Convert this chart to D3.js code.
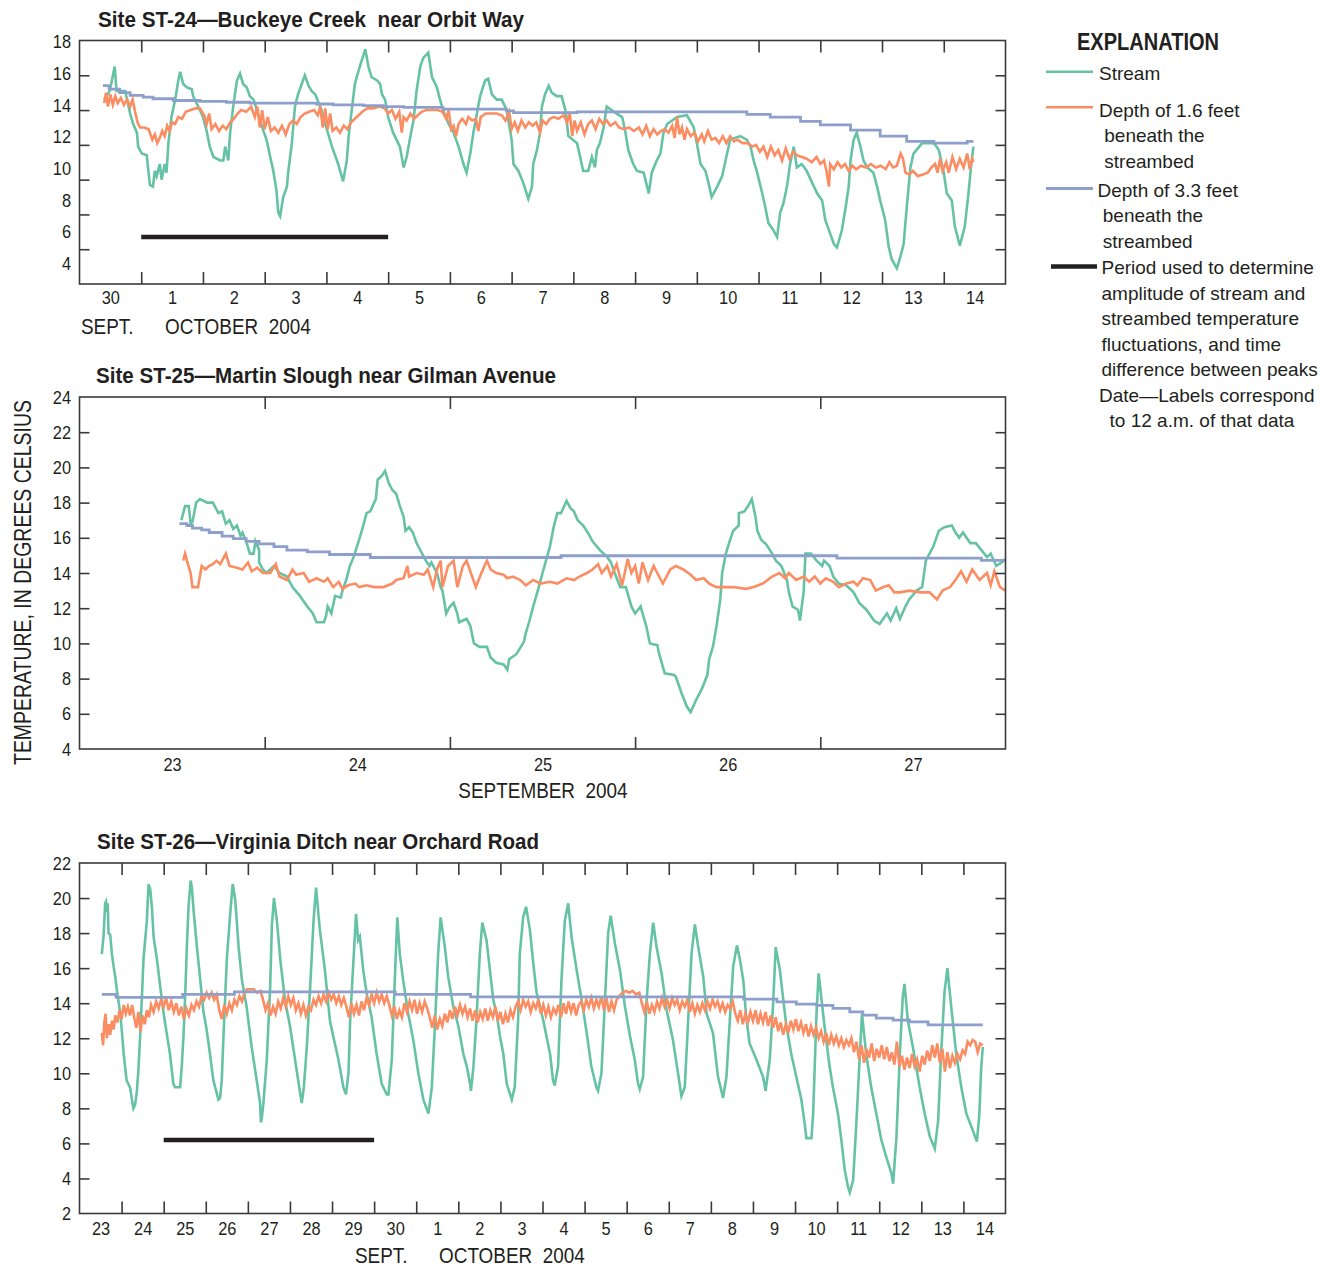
<!DOCTYPE html>
<html>
<head>
<meta charset="utf-8">
<script src="https://cdn.jsdelivr.net/npm/d3@7"></script>
<style>
  body { margin: 0; background: #fff; }
  svg text { font-family: "Liberation Sans", Arial, sans-serif; fill: #231f20; white-space: pre; }
</style>
</head>
<body>
<svg id="chart" width="1341" height="1268"></svg>
<script>
// ---------------------------------------------------------------------------
// Temperature records, as [days since the panel's start date, degrees Celsius]
// ---------------------------------------------------------------------------

// Site ST-24, Buckeye Creek near Orbit Way (starts 30 Sept. 2004)
const st24Stream = [[0.40,14.6],[0.49,15.1],[0.57,16.5],[0.60,15.1],[0.74,15.1],[0.82,13.8],[0.87,13.2],[0.93,12.7],[0.95,11.9],[1.01,11.5],[1.09,11.4],[1.11,10.7],[1.14,9.7],[1.19,9.6],[1.22,10.5],[1.25,10.2],[1.30,10.9],[1.33,10.0],[1.38,10.9],[1.41,10.4],[1.44,12.1],[1.49,13.6],[1.55,14.6],[1.60,15.7],[1.63,16.2],[1.68,15.5],[1.74,15.3],[1.82,15.2],[1.84,14.8],[1.95,14.0],[2.00,13.6],[2.06,12.8],[2.11,11.9],[2.17,11.3],[2.28,11.1],[2.33,11.1],[2.36,11.9],[2.41,11.1],[2.44,12.7],[2.49,14.2],[2.55,15.7],[2.60,16.1],[2.65,15.5],[2.71,15.3],[2.76,14.8],[2.82,14.6],[2.98,12.8],[3.03,12.3],[3.09,11.3],[3.14,10.5],[3.19,9.4],[3.22,8.1],[3.25,7.9],[3.30,9.0],[3.36,9.6],[3.38,10.4],[3.44,12.1],[3.49,14.2],[3.54,14.9],[3.60,15.5],[3.65,16.0],[3.71,15.4],[3.76,15.1],[3.82,14.9],[3.92,14.0],[3.98,13.2],[4.09,11.9],[4.19,10.9],[4.27,9.9],[4.33,11.1],[4.36,12.5],[4.41,14.0],[4.46,15.5],[4.54,16.5],[4.63,17.5],[4.68,16.5],[4.73,15.9],[4.82,15.7],[4.87,15.5],[4.90,14.9],[4.95,14.6],[5.00,13.6],[5.08,12.7],[5.19,11.9],[5.25,10.7],[5.30,11.3],[5.35,12.3],[5.41,13.4],[5.46,15.1],[5.52,16.5],[5.57,17.0],[5.65,17.3],[5.71,15.9],[5.79,15.3],[5.84,14.6],[5.89,14.0],[5.98,13.2],[6.06,12.7],[6.14,11.9],[6.22,10.9],[6.27,10.4],[6.33,11.5],[6.38,12.7],[6.49,14.8],[6.57,15.7],[6.62,15.8],[6.68,14.9],[6.76,14.6],[6.84,14.6],[6.92,14.0],[7.00,12.3],[7.03,10.9],[7.11,10.5],[7.19,9.8],[7.27,8.9],[7.33,9.6],[7.35,10.9],[7.41,11.7],[7.46,12.7],[7.49,14.2],[7.54,14.9],[7.60,15.4],[7.65,15.0],[7.73,14.8],[7.81,14.8],[7.87,14.0],[7.92,12.5],[8.06,12.1],[8.11,11.3],[8.16,10.5],[8.24,10.5],[8.30,11.3],[8.35,10.7],[8.38,11.7],[8.43,12.1],[8.49,13.0],[8.54,14.2],[8.62,14.0],[8.70,13.8],[8.79,13.6],[8.84,12.8],[8.89,11.7],[8.97,10.9],[9.03,10.5],[9.14,10.4],[9.22,9.2],[9.27,10.4],[9.35,11.1],[9.41,11.5],[9.46,12.7],[9.52,13.2],[9.68,13.6],[9.84,13.7],[9.95,13.0],[10.00,12.1],[10.06,10.9],[10.14,10.5],[10.19,9.8],[10.24,9.0],[10.33,9.6],[10.41,10.2],[10.49,11.5],[10.54,12.3],[10.70,12.5],[10.81,12.3],[10.87,11.9],[10.92,11.1],[10.97,10.5],[11.06,9.2],[11.11,8.4],[11.16,7.5],[11.24,7.1],[11.30,6.7],[11.35,8.1],[11.40,8.6],[11.46,9.6],[11.51,10.9],[11.57,11.9],[11.62,10.7],[11.70,10.9],[11.78,10.5],[11.87,9.8],[11.95,9.2],[12.03,8.8],[12.08,7.7],[12.16,6.9],[12.22,6.3],[12.27,6.1],[12.35,7.1],[12.41,8.4],[12.46,9.6],[12.49,11.1],[12.54,12.3],[12.59,12.7],[12.65,11.9],[12.70,11.1],[12.76,10.7],[12.86,10.4],[12.92,9.6],[12.97,8.8],[13.05,7.7],[13.11,6.1],[13.16,5.4],[13.24,4.9],[13.30,5.6],[13.35,6.3],[13.40,8.4],[13.46,10.7],[13.51,11.5],[13.65,12.1],[13.84,12.1],[13.92,11.7],[14.00,10.4],[14.05,9.2],[14.13,8.8],[14.18,7.3],[14.26,6.2],[14.34,7.3],[14.40,9.2],[14.44,10.7],[14.48,11.9]];
const st24Shallow = [[0.40,14.4],[0.43,15.0],[0.46,14.2],[0.50,14.9],[0.54,14.3],[0.58,14.8],[0.62,14.4],[0.67,14.7],[0.72,14.3],[0.77,14.6],[0.82,14.2],[0.86,14.6],[0.90,13.9],[0.94,13.3],[0.98,13.0],[1.05,13.0],[1.12,12.9],[1.18,12.3],[1.22,12.6],[1.26,12.1],[1.30,12.4],[1.34,12.8],[1.38,12.5],[1.42,13.1],[1.46,12.8],[1.50,13.3],[1.55,13.2],[1.60,13.6],[1.66,13.5],[1.72,13.9],[1.80,14.0],[1.88,14.1],[1.95,14.1],[2.02,13.7],[2.06,13.2],[2.10,13.8],[2.14,12.9],[2.20,13.2],[2.26,12.8],[2.32,13.1],[2.38,12.9],[2.44,13.3],[2.50,13.5],[2.56,13.8],[2.62,14.0],[2.70,13.9],[2.78,14.2],[2.84,13.6],[2.88,14.2],[2.92,13.0],[2.96,14.0],[3.00,12.9],[3.05,13.6],[3.10,12.8],[3.16,13.0],[3.22,12.7],[3.28,13.1],[3.34,12.6],[3.40,13.2],[3.46,13.4],[3.52,13.2],[3.58,13.6],[3.65,13.8],[3.72,13.9],[3.80,14.0],[3.86,13.7],[3.90,14.2],[3.94,13.0],[3.98,14.1],[4.02,12.9],[4.06,13.8],[4.10,12.8],[4.16,13.0],[4.22,12.7],[4.28,13.1],[4.34,12.9],[4.40,13.3],[4.46,13.5],[4.52,13.7],[4.58,13.9],[4.66,14.1],[4.76,14.1],[4.86,14.2],[4.94,14.1],[5.00,13.8],[5.06,14.0],[5.12,13.5],[5.18,13.9],[5.22,12.7],[5.25,13.6],[5.30,13.4],[5.36,13.8],[5.42,13.5],[5.48,13.7],[5.54,13.9],[5.62,14.0],[5.70,14.0],[5.80,14.0],[5.88,13.9],[5.94,13.5],[5.98,14.0],[6.02,12.9],[6.06,13.1],[6.10,12.5],[6.14,13.2],[6.20,13.5],[6.26,13.2],[6.30,13.6],[6.36,13.4],[6.42,13.5],[6.46,12.8],[6.50,13.6],[6.58,13.8],[6.66,13.8],[6.76,13.8],[6.84,13.7],[6.90,13.4],[6.96,13.9],[7.00,12.9],[7.05,13.3],[7.10,12.8],[7.16,13.4],[7.22,13.0],[7.28,13.3],[7.34,13.1],[7.40,13.3],[7.46,12.7],[7.50,13.4],[7.56,13.2],[7.62,13.5],[7.68,13.6],[7.76,13.5],[7.84,13.7],[7.90,13.3],[7.94,13.9],[7.98,12.5],[8.02,13.4],[8.06,12.8],[8.12,13.3],[8.18,12.6],[8.24,13.2],[8.30,13.4],[8.36,12.9],[8.42,13.5],[8.48,13.2],[8.54,13.4],[8.60,13.1],[8.68,13.3],[8.74,13.0],[8.82,12.9],[8.90,13.0],[8.98,12.8],[9.06,13.0],[9.12,12.6],[9.18,13.1],[9.24,12.5],[9.30,12.9],[9.36,12.6],[9.42,12.8],[9.48,12.9],[9.54,12.7],[9.60,13.1],[9.64,12.4],[9.68,13.6],[9.72,12.6],[9.76,13.0],[9.80,12.3],[9.84,12.9],[9.90,12.5],[9.96,12.7],[10.02,12.2],[10.08,12.6],[10.12,12.2],[10.18,12.8],[10.24,12.3],[10.30,12.4],[10.36,12.1],[10.42,12.5],[10.48,12.1],[10.54,12.5],[10.60,12.2],[10.66,12.3],[10.74,12.1],[10.82,12.1],[10.90,11.9],[10.96,12.0],[11.02,11.6],[11.08,11.9],[11.14,11.3],[11.20,11.9],[11.26,11.4],[11.32,11.7],[11.38,11.1],[11.44,11.8],[11.50,11.2],[11.56,11.6],[11.62,11.4],[11.70,11.3],[11.78,11.2],[11.86,11.0],[11.94,11.3],[12.00,10.9],[12.06,11.1],[12.10,10.5],[12.14,9.6],[12.16,10.9],[12.22,10.6],[12.28,11.0],[12.34,10.7],[12.40,10.9],[12.46,10.5],[12.52,10.8],[12.58,10.6],[12.66,10.8],[12.74,10.7],[12.82,10.9],[12.90,10.7],[12.98,10.8],[13.06,10.6],[13.12,11.0],[13.18,10.7],[13.24,10.8],[13.30,11.5],[13.34,11.2],[13.38,10.4],[13.44,10.3],[13.50,10.5],[13.58,10.2],[13.66,10.3],[13.74,10.4],[13.80,10.7],[13.86,10.9],[13.90,10.4],[13.94,11.2],[13.98,10.5],[14.04,11.0],[14.08,10.4],[14.14,11.3],[14.20,10.6],[14.26,11.2],[14.32,10.7],[14.38,11.5],[14.42,10.6],[14.46,11.2],[14.48,11.0]];
const st24Deep = [[0.38,15.4],[0.48,15.2],[0.65,15.0],[0.82,14.85],[1.03,14.75],[1.19,14.65],[1.52,14.55],[1.95,14.5],[2.38,14.45],[2.76,14.4],[3.84,14.35],[4.11,14.3],[4.60,14.25],[4.92,14.2],[5.25,14.15],[5.89,14.05],[6.92,13.95],[7.03,13.85],[8.06,13.9],[10.27,13.9],[10.81,13.75],[11.19,13.6],[11.68,13.35],[12.00,13.15],[12.49,12.85],[12.97,12.5],[13.40,12.2],[13.84,12.1],[14.38,12.2],[14.48,12.2]];
const st24Period = [[1, 6.7], [5, 6.7]];

// Site ST-25, Martin Slough near Gilman Avenue (starts 23 Sept. 2004)
const st25Stream = [[0.55,17.0],[0.57,17.8],[0.59,17.8],[0.60,16.8],[0.61,16.9],[0.63,18.0],[0.65,18.2],[0.69,18.0],[0.72,18.0],[0.75,17.4],[0.77,17.5],[0.79,16.8],[0.81,17.0],[0.83,16.5],[0.85,16.7],[0.87,16.1],[0.88,16.3],[0.90,15.8],[0.92,15.1],[0.94,15.1],[0.95,15.8],[0.97,15.3],[0.97,14.6],[0.99,14.2],[1.01,14.0],[1.05,14.4],[1.08,14.0],[1.12,13.8],[1.15,13.2],[1.19,12.7],[1.23,12.1],[1.26,11.7],[1.28,11.2],[1.32,11.2],[1.33,11.5],[1.34,12.1],[1.36,11.7],[1.38,12.7],[1.41,12.6],[1.42,13.0],[1.44,13.6],[1.46,14.4],[1.48,14.9],[1.51,15.9],[1.53,16.6],[1.55,17.4],[1.57,17.5],[1.60,18.2],[1.61,19.3],[1.63,19.5],[1.65,19.8],[1.67,19.1],[1.69,18.7],[1.71,18.5],[1.73,17.8],[1.75,17.2],[1.76,16.4],[1.78,16.6],[1.80,16.3],[1.82,15.7],[1.85,15.1],[1.87,14.7],[1.89,14.4],[1.90,14.6],[1.93,14.0],[1.95,13.2],[1.96,13.0],[1.98,11.7],[2.00,12.1],[2.02,12.3],[2.04,11.7],[2.05,11.2],[2.09,11.4],[2.11,11.0],[2.13,10.0],[2.16,9.8],[2.20,9.8],[2.22,9.2],[2.25,8.9],[2.29,8.8],[2.31,8.5],[2.32,9.1],[2.36,9.4],[2.40,10.1],[2.41,10.6],[2.43,11.3],[2.45,12.1],[2.48,13.2],[2.50,14.0],[2.54,15.5],[2.56,16.6],[2.58,17.4],[2.60,17.4],[2.63,18.1],[2.65,17.7],[2.67,17.5],[2.69,17.0],[2.72,16.7],[2.75,16.2],[2.77,15.8],[2.81,15.3],[2.85,14.9],[2.87,14.6],[2.89,14.0],[2.92,13.2],[2.95,13.2],[2.98,12.1],[3.00,11.7],[3.03,12.1],[3.04,11.7],[3.06,11.0],[3.08,10.0],[3.12,9.9],[3.13,9.4],[3.16,8.3],[3.21,8.2],[3.22,8.1],[3.25,7.2],[3.28,6.4],[3.30,6.1],[3.33,6.8],[3.36,7.4],[3.39,8.2],[3.40,9.1],[3.42,9.8],[3.44,11.0],[3.46,12.5],[3.47,14.0],[3.49,15.1],[3.51,15.8],[3.53,16.4],[3.56,16.7],[3.56,17.4],[3.59,17.5],[3.61,17.8],[3.63,18.2],[3.65,17.2],[3.66,16.4],[3.68,15.9],[3.71,15.6],[3.74,15.1],[3.76,14.7],[3.79,14.4],[3.82,13.6],[3.83,12.9],[3.85,12.1],[3.88,11.9],[3.89,11.3],[3.91,12.9],[3.92,15.1],[3.95,15.1],[3.98,14.7],[4.01,14.4],[4.02,14.7],[4.05,14.4],[4.07,13.8],[4.10,13.4],[4.14,13.3],[4.18,12.9],[4.21,12.3],[4.25,11.9],[4.29,11.3],[4.32,11.1],[4.36,11.7],[4.38,11.3],[4.41,12.0],[4.43,11.4],[4.46,12.1],[4.48,12.5],[4.52,13.0],[4.55,13.2],[4.57,14.7],[4.61,15.5],[4.64,16.4],[4.67,16.6],[4.71,16.7],[4.73,16.3],[4.75,16.0],[4.77,16.3],[4.81,15.7],[4.84,15.7],[4.87,15.3],[4.90,14.9],[4.92,15.1],[4.95,14.4],[4.98,14.6],[5.00,14.8]];
const st25Shallow = [[0.56,14.7],[0.57,15.1],[0.58,14.7],[0.60,14.0],[0.61,13.2],[0.64,13.2],[0.66,14.4],[0.68,14.2],[0.70,14.4],[0.72,14.5],[0.74,14.7],[0.76,14.5],[0.79,15.1],[0.81,14.4],[0.85,14.3],[0.88,14.2],[0.91,14.6],[0.93,14.1],[0.96,14.3],[0.99,14.0],[1.03,14.0],[1.06,14.5],[1.08,13.8],[1.12,13.6],[1.15,14.2],[1.17,13.9],[1.21,14.0],[1.24,13.5],[1.28,13.7],[1.32,13.5],[1.34,13.7],[1.37,13.2],[1.40,13.5],[1.42,13.1],[1.45,13.3],[1.49,13.4],[1.51,13.2],[1.55,13.3],[1.59,13.2],[1.64,13.2],[1.69,13.4],[1.71,13.6],[1.75,13.7],[1.77,14.4],[1.78,13.8],[1.82,14.0],[1.86,13.9],[1.88,14.2],[1.91,13.2],[1.93,14.2],[1.95,14.7],[1.96,13.2],[1.99,14.4],[2.02,14.7],[2.04,13.2],[2.07,14.4],[2.09,14.7],[2.12,13.8],[2.14,13.2],[2.17,14.0],[2.20,14.7],[2.22,14.2],[2.25,14.0],[2.29,13.9],[2.31,13.7],[2.34,13.8],[2.38,13.6],[2.41,13.3],[2.45,13.6],[2.49,13.4],[2.54,13.5],[2.58,13.4],[2.63,13.7],[2.67,13.6],[2.70,13.8],[2.74,14.0],[2.77,14.2],[2.80,14.5],[2.82,14.0],[2.85,14.4],[2.87,13.8],[2.90,14.5],[2.93,13.3],[2.96,14.8],[2.98,14.0],[3.00,14.4],[3.02,13.4],[3.04,14.6],[3.07,13.6],[3.10,14.4],[3.12,14.0],[3.15,13.4],[3.19,14.2],[3.22,14.4],[3.26,14.2],[3.30,13.9],[3.33,13.6],[3.37,13.7],[3.40,13.4],[3.44,13.2],[3.53,13.2],[3.60,13.1],[3.64,13.2],[3.69,13.4],[3.74,13.8],[3.78,14.0],[3.81,13.7],[3.83,14.0],[3.87,13.6],[3.91,13.8],[3.94,13.5],[3.97,13.8],[4.00,13.4],[4.03,13.7],[4.07,13.5],[4.10,13.2],[4.14,13.4],[4.18,13.5],[4.20,13.3],[4.23,13.7],[4.27,13.6],[4.30,13.0],[4.34,13.2],[4.37,13.3],[4.40,12.9],[4.43,12.9],[4.48,13.0],[4.54,12.9],[4.59,12.9],[4.63,12.5],[4.66,13.0],[4.70,13.2],[4.73,13.6],[4.76,14.1],[4.79,13.5],[4.82,14.2],[4.86,13.6],[4.90,14.0],[4.92,13.3],[4.94,14.1],[4.97,13.2],[5.00,13.0]];
const st25Deep = [[0.54,16.8],[0.58,16.7],[0.61,16.55],[0.66,16.45],[0.70,16.3],[0.77,16.1],[0.83,15.95],[0.90,15.8],[0.97,15.65],[1.05,15.5],[1.12,15.3],[1.23,15.2],[1.35,15.05],[1.57,14.88],[2.60,14.98],[4.09,14.85],[4.87,14.72],[5.00,14.72]];

// Site ST-26, Virginia Ditch near Orchard Road (starts 23 Sept. 2004)
const st26Stream = [[0.53,16.8],[0.57,17.8],[0.61,19.7],[0.63,19.8],[0.65,19.2],[0.67,19.7],[0.69,18.0],[0.73,17.9],[0.77,16.8],[0.81,16.1],[0.85,15.5],[0.89,14.7],[0.97,13.4],[1.01,12.3],[1.05,11.1],[1.12,9.6],[1.20,9.2],[1.28,8.0],[1.32,8.2],[1.36,8.9],[1.40,10.2],[1.44,12.1],[1.48,14.2],[1.52,16.5],[1.60,18.7],[1.64,20.8],[1.68,20.5],[1.72,19.5],[1.76,17.8],[1.84,16.5],[1.92,14.9],[2.00,13.4],[2.07,12.3],[2.15,11.1],[2.23,9.4],[2.27,9.2],[2.39,9.2],[2.43,10.4],[2.47,12.1],[2.51,14.4],[2.55,17.2],[2.59,19.5],[2.64,21.0],[2.67,20.6],[2.71,19.3],[2.79,17.2],[2.87,15.3],[2.94,13.6],[3.02,12.5],[3.10,11.1],[3.18,9.6],[3.30,8.5],[3.34,8.6],[3.38,9.6],[3.42,12.1],[3.50,16.5],[3.58,19.1],[3.64,20.8],[3.70,19.9],[3.78,17.2],[3.86,15.3],[3.97,13.8],[4.09,11.5],[4.21,9.6],[4.29,8.3],[4.31,7.2],[4.33,7.4],[4.37,8.3],[4.45,10.8],[4.53,14.9],[4.57,18.4],[4.62,20.0],[4.69,18.7],[4.77,16.5],[4.88,14.2],[5.00,12.7],[5.12,10.8],[5.24,8.9],[5.28,8.3],[5.33,9.2],[5.40,11.5],[5.48,14.9],[5.56,18.7],[5.62,20.6],[5.71,18.2],[5.83,15.9],[5.95,13.0],[6.03,12.1],[6.15,10.8],[6.27,9.2],[6.33,8.8],[6.39,10.0],[6.43,13.0],[6.51,16.5],[6.57,19.1],[6.62,17.6],[6.66,17.8],[6.74,15.9],[6.82,14.6],[6.94,13.2],[7.06,11.1],[7.18,9.4],[7.30,8.8],[7.34,8.8],[7.42,10.8],[7.50,15.9],[7.55,18.9],[7.61,16.8],[7.69,15.3],[7.81,13.4],[7.93,11.9],[8.05,10.0],[8.17,8.5],[8.29,7.7],[8.37,9.2],[8.45,13.0],[8.52,16.8],[8.58,18.9],[8.68,17.2],[8.76,15.5],[8.88,13.8],[9.00,12.7],[9.12,11.1],[9.20,10.4],[9.28,9.4],[9.30,9.0],[9.36,10.4],[9.43,13.0],[9.51,16.8],[9.57,18.6],[9.67,17.6],[9.75,15.9],[9.83,14.2],[9.91,13.4],[9.99,12.1],[10.07,11.1],[10.15,9.4],[10.27,8.5],[10.34,9.2],[10.42,13.0],[10.46,16.8],[10.54,18.9],[10.61,19.5],[10.70,18.2],[10.78,16.3],[10.86,14.6],[11.02,13.0],[11.18,11.1],[11.25,9.6],[11.29,9.3],[11.37,10.4],[11.45,15.3],[11.53,18.7],[11.61,19.7],[11.69,17.8],[11.81,15.9],[11.93,14.2],[12.05,12.3],[12.16,10.4],[12.28,9.2],[12.32,9.0],[12.40,10.0],[12.48,14.0],[12.56,18.0],[12.62,19.0],[12.72,17.4],[12.84,15.9],[12.96,13.8],[13.08,12.1],[13.19,10.8],[13.27,9.4],[13.31,9.1],[13.39,9.8],[13.47,14.0],[13.55,16.8],[13.63,18.6],[13.71,17.2],[13.83,15.7],[13.95,13.6],[14.10,11.9],[14.22,10.0],[14.30,8.7],[14.38,9.2],[14.46,13.0],[14.54,16.8],[14.62,18.5],[14.70,17.2],[14.82,15.5],[14.90,13.4],[15.05,12.3],[15.17,9.8],[15.29,8.6],[15.37,9.8],[15.45,13.0],[15.53,16.1],[15.62,17.3],[15.69,16.5],[15.77,15.3],[15.84,13.2],[15.92,11.7],[16.08,10.8],[16.24,9.8],[16.30,9.0],[16.40,10.8],[16.48,14.0],[16.54,17.2],[16.64,15.9],[16.72,14.2],[16.79,12.8],[16.91,11.1],[17.03,9.8],[17.15,8.5],[17.23,7.1],[17.27,6.3],[17.39,6.3],[17.43,7.7],[17.51,13.4],[17.56,15.7],[17.63,14.2],[17.70,12.7],[17.82,10.4],[17.90,9.2],[18.02,7.7],[18.10,6.2],[18.18,4.5],[18.26,3.5],[18.30,3.2],[18.38,3.9],[18.46,7.3],[18.54,11.1],[18.59,13.4],[18.69,11.1],[18.81,9.2],[18.93,7.7],[19.05,6.2],[19.17,5.2],[19.29,4.3],[19.33,3.7],[19.41,6.4],[19.49,11.1],[19.56,14.4],[19.60,15.1],[19.68,13.0],[19.80,11.5],[19.96,9.2],[20.08,7.7],[20.20,6.4],[20.32,5.7],[20.40,7.3],[20.47,11.1],[20.55,14.6],[20.62,16.0],[20.71,13.8],[20.83,11.1],[20.95,9.2],[21.07,7.7],[21.23,6.7],[21.32,6.1],[21.38,7.7],[21.42,10.2],[21.46,11.5]];
const st26Shallow = [[0.53,12.3],[0.56,11.6],[0.59,12.9],[0.62,13.4],[0.65,12.0],[0.69,12.8],[0.73,12.2],[0.77,13.0],[0.81,12.5],[0.85,13.3],[0.90,12.9],[0.95,13.6],[1.00,13.1],[1.05,13.9],[1.10,13.4],[1.15,13.8],[1.20,13.3],[1.25,13.9],[1.30,13.2],[1.35,12.6],[1.40,13.5],[1.45,12.4],[1.50,13.3],[1.55,12.8],[1.60,13.6],[1.65,13.2],[1.70,13.9],[1.76,13.5],[1.82,14.1],[1.88,13.7],[1.94,14.2],[2.00,13.8],[2.06,14.3],[2.12,13.6],[2.18,14.1],[2.24,13.5],[2.30,14.0],[2.36,13.3],[2.42,13.8],[2.48,13.1],[2.54,13.7],[2.60,13.3],[2.66,13.9],[2.72,13.6],[2.78,14.1],[2.84,13.8],[2.90,14.4],[2.96,14.2],[3.02,14.6],[3.08,14.3],[3.14,14.6],[3.20,14.2],[3.26,14.5],[3.32,13.6],[3.38,13.1],[3.44,13.9],[3.50,13.4],[3.56,14.0],[3.62,13.6],[3.68,14.2],[3.74,13.9],[3.80,14.4],[3.86,14.1],[3.92,14.6],[3.98,14.8],[4.06,14.8],[4.14,14.8],[4.22,14.6],[4.30,14.7],[4.36,14.2],[4.42,13.6],[4.48,14.0],[4.54,13.3],[4.60,13.8],[4.66,13.4],[4.72,14.1],[4.78,13.7],[4.84,14.3],[4.90,13.8],[4.96,14.4],[5.02,13.9],[5.08,14.3],[5.14,13.6],[5.20,14.0],[5.26,13.4],[5.32,13.9],[5.38,13.3],[5.44,13.8],[5.50,13.6],[5.56,14.2],[5.62,13.9],[5.68,14.4],[5.74,14.0],[5.80,14.5],[5.86,14.1],[5.92,14.6],[5.98,14.2],[6.04,14.5],[6.10,14.0],[6.16,14.4],[6.22,13.9],[6.28,14.3],[6.34,13.8],[6.40,13.2],[6.46,14.0],[6.52,13.4],[6.58,13.9],[6.64,13.3],[6.70,14.1],[6.76,13.6],[6.82,14.3],[6.88,13.9],[6.94,14.5],[7.00,14.0],[7.06,14.6],[7.12,14.1],[7.18,14.5],[7.24,14.0],[7.30,14.4],[7.36,13.9],[7.42,13.3],[7.48,13.8],[7.54,13.1],[7.60,13.6],[7.66,13.2],[7.72,14.0],[7.78,13.5],[7.84,14.1],[7.90,13.6],[7.96,14.2],[8.02,13.4],[8.08,14.0],[8.14,13.5],[8.20,14.1],[8.26,13.7],[8.32,13.2],[8.38,12.6],[8.44,13.3],[8.50,12.5],[8.56,13.1],[8.62,12.7],[8.68,13.4],[8.74,12.9],[8.80,13.6],[8.86,13.1],[8.92,13.8],[8.98,13.3],[9.04,13.9],[9.10,13.4],[9.16,13.8],[9.22,13.2],[9.28,13.7],[9.34,13.0],[9.40,13.6],[9.46,12.9],[9.52,13.5],[9.58,13.1],[9.64,13.7],[9.70,13.0],[9.76,13.6],[9.82,13.2],[9.88,13.8],[9.94,13.0],[10.00,13.5],[10.06,12.8],[10.12,13.4],[10.18,12.9],[10.24,13.6],[10.30,13.2],[10.36,13.8],[10.42,14.1],[10.48,13.6],[10.54,14.2],[10.60,13.8],[10.66,14.1],[10.72,13.5],[10.78,14.0],[10.84,13.7],[10.90,14.2],[10.96,13.4],[11.02,13.9],[11.08,13.3],[11.14,13.8],[11.20,13.2],[11.26,13.7],[11.32,13.4],[11.38,13.9],[11.44,13.2],[11.50,14.0],[11.56,13.4],[11.62,14.1],[11.68,13.5],[11.74,14.0],[11.80,13.3],[11.86,13.9],[11.92,14.1],[11.98,13.6],[12.04,14.2],[12.10,13.8],[12.16,14.3],[12.22,13.7],[12.28,14.2],[12.34,13.8],[12.40,14.4],[12.46,13.6],[12.52,14.3],[12.58,13.5],[12.64,14.1],[12.70,13.6],[12.76,14.2],[12.82,14.4],[12.90,14.6],[12.98,14.7],[13.06,14.6],[13.14,14.7],[13.22,14.5],[13.30,14.6],[13.36,14.0],[13.42,13.5],[13.48,14.1],[13.54,13.4],[13.60,13.9],[13.66,13.5],[13.72,14.1],[13.78,13.7],[13.84,14.3],[13.90,13.8],[13.96,14.2],[14.02,13.7],[14.08,14.3],[14.14,13.9],[14.20,14.2],[14.26,13.6],[14.32,14.1],[14.38,13.8],[14.44,14.2],[14.50,13.5],[14.56,14.0],[14.62,13.4],[14.68,13.9],[14.74,13.5],[14.80,14.0],[14.86,13.6],[14.92,14.1],[14.98,13.7],[15.04,14.2],[15.10,13.8],[15.16,14.1],[15.22,13.6],[15.28,14.0],[15.34,13.5],[15.40,13.9],[15.46,13.7],[15.52,14.1],[15.58,13.4],[15.64,13.0],[15.70,13.6],[15.76,12.8],[15.82,13.4],[15.88,12.9],[15.94,13.5],[16.00,13.0],[16.06,13.6],[16.12,12.8],[16.18,13.4],[16.24,12.9],[16.30,13.5],[16.36,12.7],[16.42,13.3],[16.48,12.6],[16.54,13.2],[16.60,12.4],[16.66,12.9],[16.72,12.2],[16.78,12.8],[16.84,12.3],[16.90,13.0],[16.96,12.5],[17.02,13.1],[17.08,12.4],[17.14,12.9],[17.20,12.3],[17.26,12.8],[17.32,12.1],[17.38,12.7],[17.44,12.2],[17.50,12.6],[17.56,12.0],[17.62,12.4],[17.68,11.8],[17.74,12.3],[17.80,11.6],[17.86,12.2],[17.92,11.7],[17.98,12.1],[18.04,11.6],[18.10,12.0],[18.16,11.5],[18.22,11.9],[18.28,11.6],[18.34,12.0],[18.40,11.2],[18.46,11.8],[18.52,10.8],[18.58,11.6],[18.64,10.6],[18.70,11.4],[18.76,10.9],[18.82,11.7],[18.88,10.7],[18.94,11.4],[19.00,10.9],[19.06,11.6],[19.12,10.8],[19.18,11.5],[19.24,10.7],[19.30,11.2],[19.36,10.5],[19.42,11.8],[19.48,10.4],[19.54,11.0],[19.60,10.2],[19.66,10.9],[19.72,10.3],[19.78,11.1],[19.84,10.4],[19.90,10.8],[19.96,10.1],[20.02,11.0],[20.08,10.5],[20.14,11.3],[20.20,10.7],[20.26,11.6],[20.32,10.9],[20.38,11.7],[20.44,10.6],[20.50,11.4],[20.56,10.1],[20.62,11.2],[20.68,10.3],[20.74,11.0],[20.80,10.6],[20.86,11.1],[20.92,10.8],[20.98,11.3],[21.04,11.1],[21.10,11.8],[21.16,11.6],[21.22,11.9],[21.28,11.8],[21.34,11.2],[21.40,11.7],[21.46,11.6]];
const st26Deep = [[0.53,14.5],[0.87,14.33],[2.45,14.5],[3.68,14.65],[7.50,14.5],[9.29,14.36],[15.78,14.23],[16.57,14.08],[17.03,13.95],[17.51,13.88],[17.90,13.7],[18.30,13.5],[18.61,13.32],[18.93,13.15],[19.33,13.03],[19.72,12.94],[20.16,12.76],[21.46,12.76]];
const st26Period = [[2, 6.2], [7, 6.2]];

// Axis tick values (degrees Celsius)
const st24YLabels = [4, 6, 8, 10, 12, 14, 16, 18];
const st24YTicks  = [6, 8, 10, 12, 14, 16];
const st25YLabels = [4, 6, 8, 10, 12, 14, 16, 18, 20, 22, 24];
const st25YTicks  = [6, 8, 10, 12, 14, 16, 18, 20, 22];
const st26YLabels = [2, 4, 6, 8, 10, 12, 14, 16, 18, 20, 22];
const st26YTicks  = [4, 6, 8, 10, 12, 14, 16, 18, 20];

// Legend entries
const legendItems = [
  { key: "stream",  lines: ["Stream"] },
  { key: "shallow", lines: ["Depth of 1.6 feet", " beneath the", " streambed"] },
  { key: "deep",    lines: ["Depth of 3.3 feet", " beneath the", " streambed"] },
  { key: "period",  lines: ["Period used to determine", "amplitude of stream and", "streambed temperature", "fluctuations, and time", "difference between peaks"] }
];
const dateNote = ["Date\u2014Labels correspond", "  to 12 a.m. of that data"];

// ---------------------------------------------------------------------------
// Styling and layout
// ---------------------------------------------------------------------------
const COLOR = { stream: "#66c2a5", shallow: "#fc8d62", deep: "#8da0cb", period: "#231f20", frame: "#3a3a3a" };
const LEFT = 79.5, RIGHT = 1005.5;
const NUM_FONT = 19, NUM_SQUEEZE = 0.86;   // condensed figures for tick labels

// Horizontally condense text to a fraction of its natural width
function condense(sel, factor) {
  sel.each(function () {
    const w = this.getComputedTextLength();
    d3.select(this).attr("textLength", (w * factor).toFixed(1)).attr("lengthAdjust", "spacingAndGlyphs");
  });
}
// Fit text to an exact width
function fitWidth(sel, width) {
  sel.attr("textLength", width).attr("lengthAdjust", "spacingAndGlyphs");
}

const panels = [
  { id: "st24", title: "Site ST-24\u2014Buckeye Creek  near Orbit Way", titleX: 98, titleY: 27, titleW: 426,
    top: 40.5, bottom: 284, start: "2004-09-30", days: 15, yDomain: [4, 18],
    yTicks: st24YTicks, yLabels: st24YLabels, labelRange: [263.5, 41.5],
    stream: st24Stream, shallow: st24Shallow, deep: st24Deep, period: st24Period,
    dayLabelY: 304, monthY: 334, months: [{ text: "SEPT.", x: 81 }, { text: "OCTOBER  2004", x: 165 }] },
  { id: "st25", title: "Site ST-25\u2014Martin Slough near Gilman Avenue", titleX: 96, titleY: 383, titleW: 460,
    top: 397, bottom: 749, start: "2004-09-23", days: 5, yDomain: [4, 24],
    yTicks: st25YTicks, yLabels: st25YLabels, labelRange: null,
    stream: st25Stream, shallow: st25Shallow, deep: st25Deep, period: null,
    dayLabelY: 771, monthY: 798, months: [{ text: "SEPTEMBER  2004", x: 543, anchor: "middle" }] },
  { id: "st26", title: "Site ST-26\u2014Virginia Ditch near Orchard Road", titleX: 97, titleY: 849, titleW: 442,
    top: 863, bottom: 1213.5, start: "2004-09-23", days: 22, yDomain: [2, 22],
    yTicks: st26YTicks, yLabels: st26YLabels, labelRange: null,
    stream: st26Stream, shallow: st26Shallow, deep: st26Deep, period: st26Period,
    dayLabelY: 1235, monthY: 1263, months: [{ text: "SEPT.", x: 355 }, { text: "OCTOBER  2004", x: 439 }] }
];

const svg = d3.select("#chart");
const DAY = 864e5;
const parse = d3.utcParse("%Y-%m-%d");
const fmtDay = d3.utcFormat("%-d");

panels.forEach(p => {
  const t0 = parse(p.start);
  const toDate = d => new Date(t0.getTime() + d * DAY);
  const x = d3.scaleUtc().domain([t0, toDate(p.days)]).range([LEFT, RIGHT]);
  const y = d3.scaleLinear().domain(p.yDomain).range([p.bottom, p.top]);
  // Value labels may sit on their own (slightly compressed) scale
  const yLab = p.labelRange ? d3.scaleLinear().domain(p.yDomain).range(p.labelRange) : y;

  const g = svg.append("g").attr("class", "panel " + p.id);

  // clip region for the data lines
  svg.append("clipPath").attr("id", "clip-" + p.id)
    .append("rect").attr("x", LEFT).attr("y", p.top).attr("width", RIGHT - LEFT).attr("height", p.bottom - p.top);

  // title
  g.append("text").attr("x", p.titleX).attr("y", p.titleY)
    .attr("font-size", 22).attr("font-weight", "bold").text(p.title).call(fitWidth, p.titleW);

  // data series
  const lineLin = d3.line().x(d => x(toDate(d[0]))).y(d => y(d[1]));
  const lineStep = d3.line().x(d => x(toDate(d[0]))).y(d => y(d[1])).curve(d3.curveStepAfter);
  const plot = g.append("g").attr("clip-path", "url(#clip-" + p.id + ")");
  plot.append("path").datum(p.stream).attr("d", lineLin)
    .attr("fill", "none").attr("stroke", COLOR.stream).attr("stroke-width", 2.6);
  plot.append("path").datum(p.shallow).attr("d", lineLin)
    .attr("fill", "none").attr("stroke", COLOR.shallow).attr("stroke-width", 2.6);
  plot.append("path").datum(p.deep).attr("d", lineStep)
    .attr("fill", "none").attr("stroke", COLOR.deep).attr("stroke-width", 2.8);
  if (p.period) {
    plot.append("path").datum(p.period).attr("d", lineLin)
      .attr("fill", "none").attr("stroke", COLOR.period).attr("stroke-width", 4.5);
  }

  // inward tick marks: day boundaries on top and bottom, temperatures left and right
  const midnights = d3.range(1, p.days).map(toDate);
  const tickStyle = sel => {
    sel.select(".domain").remove();
    sel.selectAll(".tick line").attr("stroke", COLOR.frame).attr("stroke-width", 1.6);
  };
  g.append("g").attr("transform", `translate(0,${p.bottom})`)
    .call(d3.axisBottom(x).tickValues(midnights).tickSize(-12).tickFormat("")).call(tickStyle);
  g.append("g").attr("transform", `translate(0,${p.top})`)
    .call(d3.axisTop(x).tickValues(midnights).tickSize(-12).tickFormat("")).call(tickStyle);
  g.append("g").attr("transform", `translate(${LEFT},0)`)
    .call(d3.axisLeft(y).tickValues(p.yTicks).tickSize(-10).tickFormat("")).call(tickStyle);
  g.append("g").attr("transform", `translate(${RIGHT},0)`)
    .call(d3.axisRight(y).tickValues(p.yTicks).tickSize(-10).tickFormat("")).call(tickStyle);

  // frame
  g.append("rect").attr("x", LEFT).attr("y", p.top).attr("width", RIGHT - LEFT).attr("height", p.bottom - p.top)
    .attr("fill", "none").attr("stroke", COLOR.frame).attr("stroke-width", 1.6);

  // temperature labels
  const yAx = g.append("g").attr("transform", "translate(71,0)")
    .call(d3.axisLeft(yLab).tickValues(p.yLabels).tickSize(0).tickPadding(0));
  yAx.select(".domain").remove();
  yAx.selectAll("text").attr("font-size", NUM_FONT).attr("fill", "#231f20")
    .attr("font-family", "'Liberation Sans', Arial, sans-serif").call(condense, NUM_SQUEEZE);

  // day labels, centred on each day
  const noons = d3.range(0, p.days).map(d => toDate(d + 0.5));
  const xAx = g.append("g").attr("transform", `translate(0,${p.dayLabelY})`)
    .call(d3.axisBottom(x).tickValues(noons).tickFormat(fmtDay).tickSize(0));
  xAx.select(".domain").remove();
  xAx.selectAll("text").attr("y", 0).attr("dy", 0).attr("font-size", NUM_FONT).attr("fill", "#231f20")
    .attr("font-family", "'Liberation Sans', Arial, sans-serif").call(condense, NUM_SQUEEZE);

  // month / year captions
  p.months.forEach(m => {
    g.append("text").attr("x", m.x).attr("y", p.monthY).attr("font-size", 22)
      .attr("text-anchor", m.anchor || "start").text(m.text).call(condense, 0.86);
  });
});

// shared vertical axis title
svg.append("text").attr("transform", "translate(31,582.5) rotate(-90)")
  .attr("text-anchor", "middle").attr("font-size", 24).text("TEMPERATURE, IN DEGREES CELSIUS")
  .call(fitWidth, 365);

// explanation
const lg = svg.append("g").attr("class", "legend");
lg.append("text").attr("x", 1077).attr("y", 50).attr("font-size", 23).attr("font-weight", "bold")
  .text("EXPLANATION").call(fitWidth, 142);
const legendLayout = {
  stream:  { lineY: 71.7,  x1: 1046, x2: 1093, textX: 1099, baseY: 80, width: 2.6 },
  shallow: { lineY: 107.3, x1: 1046, x2: 1093, textX: 1099, baseY: 116.5, width: 2.6 },
  deep:    { lineY: 188.5, x1: 1046, x2: 1093, textX: 1097.5, baseY: 196.5, width: 2.8 },
  period:  { lineY: 266.5, x1: 1051, x2: 1097, textX: 1101.5, baseY: 274, width: 4.5 }
};
const LINE_GAP = 25.5, LEGEND_FONT = 19;
legendItems.forEach(item => {
  const L = legendLayout[item.key];
  lg.append("line").attr("x1", L.x1).attr("x2", L.x2).attr("y1", L.lineY).attr("y2", L.lineY)
    .attr("stroke", COLOR[item.key]).attr("stroke-width", L.width);
  item.lines.forEach((s, i) => {
    lg.append("text").attr("x", L.textX).attr("y", L.baseY + i * LINE_GAP).attr("font-size", LEGEND_FONT).text(s);
  });
});
dateNote.forEach((s, i) => {
  lg.append("text").attr("x", 1099).attr("y", 401.5 + i * LINE_GAP).attr("font-size", LEGEND_FONT).text(s);
});
</script>
</body>
</html>
